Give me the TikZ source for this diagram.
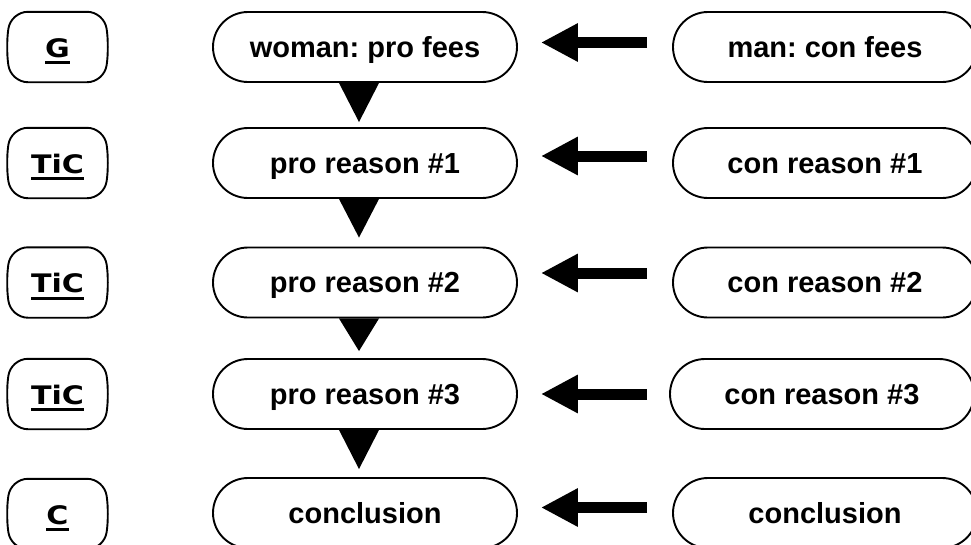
\documentclass[tikz,border=0pt]{standalone}
\usepackage{fontspec}
\setmainfont{Liberation Sans}
\newfontfamily\vfont[FakeStretch=1.18]{DejaVu Sans}
\usetikzlibrary{shapes.misc,arrows.meta,calc}
\newcommand\ulx[1]{\setbox0\hbox{#1}\rlap{\rule[-7pt]{\wd0}{2.6pt}}\box0}
\frenchspacing
\begin{document}
\begin{tikzpicture}[x=1pt,y=-1pt,
  outline/.style={draw=black,line width=1.9pt},
  tbox/.style={rounded rectangle,rounded rectangle arc length=180,outline,
    minimum width=304pt,minimum height=70pt,inner sep=0pt,
    text height=22pt,text depth=2pt,font=\fontsize{29}{34}\selectfont\bfseries},
  lbox/.style={rectangle,minimum width=103pt,minimum height=70pt,inner sep=0pt,
    text height=21pt,text depth=1pt,font=\fontsize{25.5}{30}\selectfont\vfont\bfseries},
  harrow/.style={line width=11pt,-{Triangle[width=36pt,length=37pt]}},
  tri/.style={fill=black}]
\useasboundingbox (0,0) rectangle (971,544);
\clip (0,0) rectangle (971,544);
% left labels
\node[lbox] (L1) at (57.5,47) {\ulx{G}};
\node[lbox] (L2) at (57.5,163) {\ulx{TiC}};
\node[lbox] (L3) at (57.5,282.5) {\ulx{TiC}};
\node[lbox] (L4) at (57.5,394) {\ulx{TiC}};
\node[lbox] (L5) at (57.5,514) {\ulx{C}};
\foreach \n in {L1,L2,L3,L4,L5}
  \draw[outline,rounded corners=17pt] (\n.north) -- ([xshift=-5pt]\n.north east) -- (\n.east)
    -- ([xshift=-5pt]\n.south east) -- ([xshift=5pt]\n.south west) -- (\n.west)
    -- ([xshift=5pt]\n.north west) -- cycle;
% middle column
\node[tbox] (M1) at (365,47) {woman: pro fees};
\node[tbox] (M2) at (365,163) {pro reason \#1};
\node[tbox] (M3) at (365,282.5) {pro reason \#2};
\node[tbox] (M4) at (365,394) {pro reason \#3};
\node[tbox] (M5) at (365,513) {conclusion};
% right column
\node[tbox] (R1) at (825,47) {man: con fees};
\node[tbox] (R2) at (825,163) {con reason \#1};
\node[tbox] (R3) at (825,282.5) {con reason \#2};
\node[tbox] (R4) at (822,394) {con reason \#3};
\node[tbox] (R5) at (825,513) {conclusion};
% down triangles
\fill[tri] ([xshift=-26pt]M1.south) -- ([xshift=14pt]M1.south) -- ([xshift=-6pt,yshift=5pt]M2.north) -- cycle;
\fill[tri] ([xshift=-26pt]M2.south) -- ([xshift=14pt]M2.south) -- ([xshift=-6pt,yshift=9pt]M3.north) -- cycle;
\fill[tri] ([xshift=-26pt]M3.south) -- ([xshift=14pt]M3.south) -- ([xshift=-6pt,yshift=7pt]M4.north) -- cycle;
\fill[tri] ([xshift=-26pt]M4.south) -- ([xshift=14pt]M4.south) -- ([xshift=-6pt,yshift=8pt]M5.north) -- cycle;
% left arrows
\draw[harrow] ([xshift=-25pt,yshift=4.5pt]R1.west) -- ([xshift=23pt,yshift=4.5pt]M1.east);
\draw[harrow] ([xshift=-25pt,yshift=7pt]R2.west) -- ([xshift=23pt,yshift=7pt]M2.east);
\draw[harrow] ([xshift=-25pt,yshift=9.5pt]R3.west) -- ([xshift=23pt,yshift=9.5pt]M3.east);
\draw[harrow] ([xshift=-22pt]R4.west) -- ([xshift=23pt]M4.east);
\draw[harrow] ([xshift=-25pt,yshift=5.5pt]R5.west) -- ([xshift=23pt,yshift=5.5pt]M5.east);
\end{tikzpicture}
\end{document}
